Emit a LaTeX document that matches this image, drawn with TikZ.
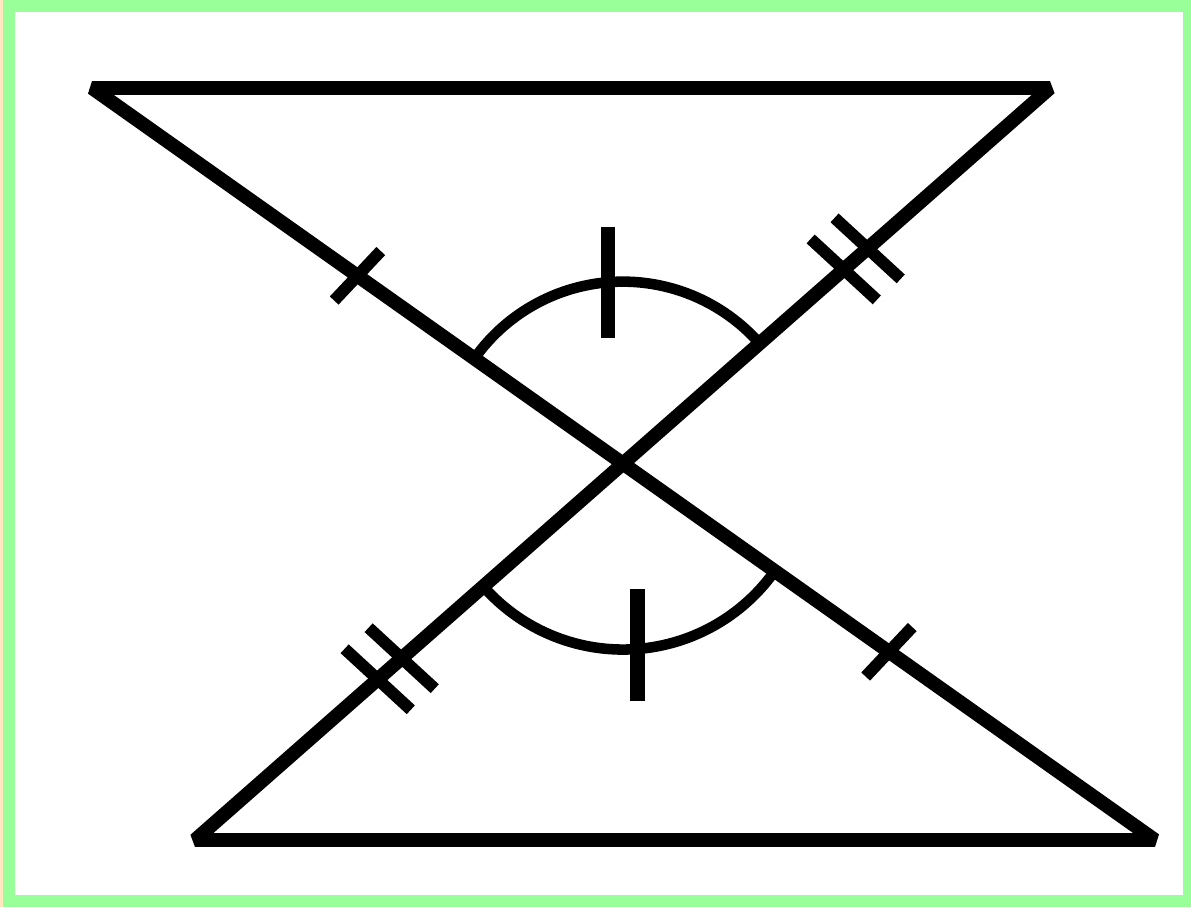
\documentclass[tikz,border=0pt]{standalone}
\usetikzlibrary{calc}
\definecolor{framegreen}{RGB}{153,255,153}
\definecolor{edgebeige}{RGB}{255,232,192}
\begin{document}
\begin{tikzpicture}[x=0.02cm,y=-0.02cm,
  side/.style={line width=7.9pt,line join=bevel},
  angarc/.style={line width=6pt},
  hash/.style={line width=6.8pt},
  arctick/.style={line width=8.5pt}]
%% frame
\fill[framegreen] (0,0) rectangle (1191,907);
\fill[edgebeige] (0,0) rectangle (3,907);
\fill[white] (15,12) rectangle (1183,895);
\useasboundingbox (0,0) rectangle (1191,907);

%% vertices
\coordinate (A) at (92,88);
\coordinate (B) at (1050,88);
\coordinate (C) at (195,840);
\coordinate (D) at (1155,840);
\coordinate (O) at (intersection of A--D and B--C);

%% edges
\draw[side] (A) -- (B) -- (C) -- (D) -- cycle;

%% single ticks
\foreach \p in {A,D}{
  \coordinate (m) at ($(O)!0.5!(\p)$);
  \draw[hash] ($(m)!0.68cm!82:(\p)$) -- ($(m)!0.68cm!-98:(\p)$);
}

%% double ticks
\foreach \p/\f in {B/0.517,B/0.573,C/0.517,C/0.573}{
  \coordinate (n) at ($(O)!\f!(\p)$);
  \draw[hash] ($(n)!0.9cm!96:(\p)$) -- ($(n)!0.9cm!-84:(\p)$);
}

%% vertical angles
\draw[angarc] ($(O)+(41.3:3.64cm)$) arc[start angle=41.3,end angle=144.8,radius=3.64cm];
\draw[angarc] ($(O)+(221.3:3.72cm)$) arc[start angle=221.3,end angle=324.8,radius=3.72cm];

\coordinate (k1) at ($(O)+(94.7:3.64cm)$);
\coordinate (k2) at ($(O)+(274.6:3.72cm)$);
\draw[arctick] (k1) ++(0,-55) -- ++(0,111);
\draw[arctick] (k2) ++(0,-60) -- ++(0,112);
\end{tikzpicture}
\end{document}
